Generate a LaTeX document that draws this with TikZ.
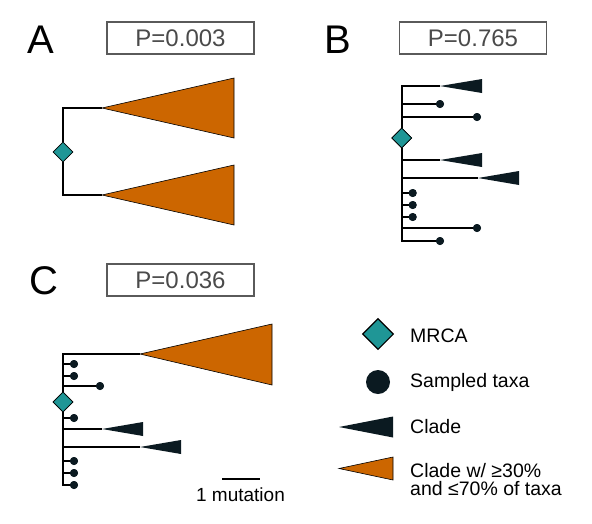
\documentclass[tikz,border=0pt]{standalone}
\usepackage{fontspec}
\setmainfont{Liberation Sans}
\usetikzlibrary{shapes.geometric}
\definecolor{orng}{HTML}{CC6600}
\definecolor{tealc}{HTML}{1F9696}
\definecolor{darkc}{HTML}{0B1A21}
\definecolor{boxgray}{HTML}{5A5A5A}
\definecolor{txtgray}{HTML}{4A4A4A}
\tikzset{
  branch/.style={line width=1.8pt, draw=black, line join=miter},
  taxon/.style={circle, fill=darkc, inner sep=0pt, minimum size=8pt},
  mrca/.style={diamond, draw=black, fill=tealc, line width=0.7pt, inner sep=0pt, minimum width=20pt, minimum height=20pt},
  pbox/.style={draw=boxgray, line width=1.5pt, minimum width=147pt, minimum height=32pt, inner sep=0pt, text=txtgray, font=\fontsize{24}{24}\selectfont},
  panel/.style={anchor=base, inner sep=0pt, font=\fontsize{40}{40}\selectfont},
  legtext/.style={anchor=base west, inner sep=0pt, font=\fontsize{19.5}{22}\selectfont},
  clade/.style={fill=darkc},
  bigclade/.style={fill=orng, draw=black, line width=0.6pt, line join=miter},
}
\begin{document}
\begin{tikzpicture}[x=1pt,y=-1pt]
\useasboundingbox (0,0) rectangle (592,523);

% ---------------- Panel A
\node[panel] (lA) at (41,53) {A};
\node[pbox] (pA) at (180.5,38) {P=0.003};
\node[mrca] (rA) at (63,152) {};
\coordinate (aT) at (63,108);
\coordinate (aB) at (63,195);
\coordinate (aTt) at (102,108);
\coordinate (aBt) at (102,195);
\draw[bigclade] (aTt) -- (234,78) -- (234,138) -- cycle;
\draw[bigclade] (aBt) -- (234,165) -- (234,225) -- cycle;
\draw[branch] (aTt) -- (aT) -- (rA.north);
\draw[branch] (aBt) -- (aB) -- (rA.south);

% ---------------- Panel B
\node[panel] (lB) at (337.5,53) {B};
\node[pbox] (pB) at (473,38) {P=0.765};
\node[mrca] (rB) at (401.7,138) {};
\coordinate (bTop) at (401.7,86);
\coordinate (bBot) at (401.7,241);
\foreach \y in {104,117,160,178,193,205,217,228}
  \coordinate (bv\y) at (401.7,\y);
% tips
\coordinate (bc1) at (440,86);
\node[taxon] (bt2) at (440,104) {};
\node[taxon] (bt3) at (477,117) {};
\coordinate (bc4) at (440,160);
\coordinate (bc5) at (478,178);
\node[taxon] (bt6) at (412.7,193) {};
\node[taxon] (bt7) at (412.7,205) {};
\node[taxon] (bt8) at (412.7,217) {};
\node[taxon] (bt9) at (477,228) {};
\node[taxon] (bt10) at (440,241) {};
\draw[branch] (bc1) -- (bTop) -- (rB.north);
\draw[branch] (rB.south) -- (bBot) -- (bt10.center);
\draw[branch] (bv104) -- (bt2.center);
\draw[branch] (bv117) -- (bt3.center);
\draw[branch] (bv160) -- (bc4);
\draw[branch] (bv178) -- (bc5);
\draw[branch] (bv193) -- (bt6.center);
\draw[branch] (bv205) -- (bt7.center);
\draw[branch] (bv217) -- (bt8.center);
\draw[branch] (bv228) -- (bt9.center);
\fill[clade] (bc1) -- ++(42,-7) -- ++(0,14) -- cycle;
\fill[clade] (bc4) -- ++(42,-7) -- ++(0,14) -- cycle;
\fill[clade] (bc5) -- ++(41,-7) -- ++(0,14) -- cycle;
\foreach \n in {bt2,bt3,bt6,bt7,bt8,bt9,bt10}
  \fill[darkc] (\n) circle (4pt);
\node[mrca] at (rB) {};

% ---------------- Panel C
\node[panel] (lC) at (43.5,294) {C};
\node[pbox] (pC) at (180.5,280) {P=0.036};
\node[mrca] (rC) at (63,402) {};
\coordinate (cTop) at (63,354);
\coordinate (cBot) at (63,485);
\foreach \y in {364,376,386,418,429,447,461,473}
  \coordinate (cv\y) at (63,\y);
\coordinate (cc1) at (140,354);
\node[taxon] (ct2) at (74,364) {};
\node[taxon] (ct3) at (74,376) {};
\node[taxon] (ct4) at (100,386) {};
\node[taxon] (ct5) at (74,418) {};
\coordinate (cc6) at (102,429);
\coordinate (cc7) at (140,447);
\node[taxon] (ct8) at (74,461) {};
\node[taxon] (ct9) at (74,473) {};
\node[taxon] (ct10) at (74,485) {};
\draw[bigclade] (cc1) -- (272,324) -- (272,385) -- cycle;
\draw[branch] (cc1) -- (cTop) -- (rC.north);
\draw[branch] (rC.south) -- (cBot) -- (ct10.center);
\draw[branch] (cv364) -- (ct2.center);
\draw[branch] (cv376) -- (ct3.center);
\draw[branch] (cv386) -- (ct4.center);
\draw[branch] (cv418) -- (ct5.center);
\draw[branch] (cv429) -- (cc6);
\draw[branch] (cv447) -- (cc7);
\draw[branch] (cv461) -- (ct8.center);
\draw[branch] (cv473) -- (ct9.center);
\fill[clade] (cc6) -- ++(41,-7) -- ++(0,14) -- cycle;
\fill[clade] (cc7) -- ++(41,-7) -- ++(0,14) -- cycle;
\foreach \n in {ct2,ct3,ct4,ct5,ct8,ct9,ct10}
  \fill[darkc] (\n) circle (4pt);
\node[mrca] at (rC) {};

% scale bar
\coordinate (sL) at (222,479);
\coordinate (sR) at (260,479);
\draw[branch] (sL) -- (sR);
\node[anchor=base, inner sep=0pt, font=\fontsize{19}{22}\selectfont] (sT) at (240.5,501) {1 mutation};

% ---------------- Legend
\node[mrca, minimum width=31pt, minimum height=31pt, line width=1.1pt] (lgD) at (378,334) {};
\node[legtext] (lgDt) at (410,342) {MRCA};
\node[taxon, minimum size=24pt] (lgS) at (378,382) {};
\node[legtext] (lgSt) at (410,387.5) {Sampled taxa};
\coordinate (lgC) at (339,427);
\fill[clade] (lgC) -- (393,416.5) -- (393,437.5) -- cycle;
\node[legtext] (lgCt) at (410,433) {Clade};
\coordinate (lgO) at (339,468.5);
\draw[bigclade] (lgO) -- (393,457) -- (393,480) -- cycle;
\node[legtext] (lgOt1) at (410,477) {Clade w/ ≥30\%};
\node[legtext] (lgOt2) at (410,495.5) {and ≤70\% of taxa};
\end{tikzpicture}
\end{document}
